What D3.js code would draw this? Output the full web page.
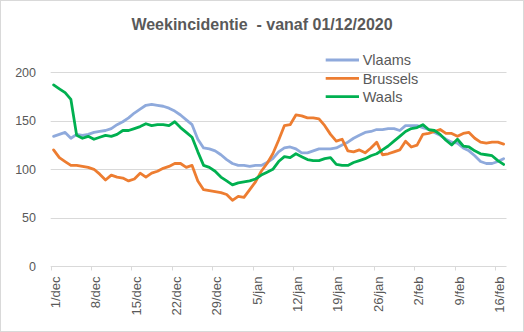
<!DOCTYPE html>
<html><head><meta charset="utf-8">
<script src="https://cdn.jsdelivr.net/npm/d3@7"></script>
<style>body{margin:0;background:#fff}svg{display:block}text{font-family:"Liberation Sans",Arial,sans-serif}</style>
</head><body><div id="c"></div>
<script>
// Days 1 Dec 2020 .. 17 Feb 2021
const startDate = new Date(2020, 11, 1);
const nDays = 79;
const dates = d3.range(nDays).map(i => d3.timeDay.offset(startDate, i));
const monthNames = ["jan","feb","mrt","apr","mei","jun","jul","aug","sep","okt","nov","dec"];
const tickDays = d3.range(0, nDays, 7);
const yTicks = [0, 50, 100, 150, 200];
const seriesNames = ["Vlaams", "Brussels", "Waals"];
const seriesColors = ["#8faadc", "#ed7d31", "#00b050"];

const vlaams = [134,136,138,132,136,135,136,138,139,140,142,146,149,153,158,162,166,167,166,165,163,160,156,151,146,131,122,121,119,115,110,106,104,104,103,104,104,107,111,118,122,123,121,117,117,119,121,121,121,122,125,128,132,135,138,139,141,141,142,142,140,145,145,145,143,141,138,135,131,128,127,122,119,114,108,106,106,108,111];
const brussels = [120,112,108,104,104,103,102,100,95,89,94,92,91,88,90,96,92,96,98,101,103,106,106,102,104,88,79,78,77,76,74,68,72,71,79,87,98,106,116,130,145,146,156,155,153,153,152,145,136,129,131,119,118,120,117,122,128,115,116,118,120,129,123,125,136,137,139,141,137,137,134,137,138,132,128,127,128,128,126];
const waals = [187,183,179,172,135,132,134,131,133,135,134,136,140,140,142,144,147,145,146,146,145,149,143,138,133,118,104,102,98,92,88,84,86,87,88,90,94,97,100,108,113,112,116,113,110,109,109,111,112,105,104,104,107,109,111,114,116,120,124,129,134,139,142,143,146,141,140,136,130,125,131,124,123,119,116,115,114,109,105];
const allSeries = [vlaams, brussels, waals];

const W = 524, H = 332;
const svg = d3.select("#c").append("svg").attr("width", W).attr("height", H);
svg.append("rect").attr("x",0.5).attr("y",0.5).attr("width",W-1).attr("height",H-1)
  .attr("fill","#fff").attr("stroke","#d9d9d9");

const x = d3.scaleBand().domain(d3.range(nDays)).range([50.7, 506.5]);
const y = d3.scaleLinear().domain([0, 200]).range([266.3, 72.3]);
const textCol = "#595959";

// gridlines
svg.append("g").selectAll("line").data(yTicks.filter(t => t > 0)).join("line")
  .attr("x1", 50.7).attr("x2", 506.5)
  .attr("y1", d => Math.round(y(d)) + 0.5).attr("y2", d => Math.round(y(d)) + 0.5)
  .attr("stroke", "#d9d9d9").attr("stroke-width", 1);

// y axis labels
const yAxis = d3.axisLeft(y).tickValues(yTicks).tickSize(0).tickPadding(0);
const gy = svg.append("g").attr("transform", "translate(36,0)").call(yAxis);
gy.select(".domain").remove();
gy.selectAll("text").attr("fill", textCol).style("font-size", "12.5px")
  .style("font-family", '"Liberation Sans",Arial,sans-serif');

// x axis
const xAxisY = Math.round(y(0)) + 0.5;
svg.append("line").attr("x1", 50.7).attr("x2", 506.5).attr("y1", xAxisY).attr("y2", xAxisY)
  .attr("stroke", "#d9d9d9");
const gx = svg.append("g");
gx.selectAll("line").data(tickDays).join("line")
  .attr("x1", d => Math.round(x(d)) + 0.5).attr("x2", d => Math.round(x(d)) + 0.5)
  .attr("y1", xAxisY).attr("y2", xAxisY + 4).attr("stroke", "#d9d9d9");
gx.selectAll("text").data(tickDays).join("text")
  .attr("transform", d => `translate(${x(d) + 4.5},${xAxisY + 10}) rotate(-90)`)
  .attr("text-anchor", "end").attr("dy", "0.35em")
  .attr("fill", textCol).style("font-size", "13px")
  .text(d => `${dates[d].getDate()}/${monthNames[dates[d].getMonth()]}`);

// lines
const line = d3.line().x((d, i) => x(i) + x.bandwidth() / 2).y(d => y(d));
svg.append("g").selectAll("path").data(allSeries).join("path")
  .attr("d", d => line(d)).attr("fill", "none")
  .attr("stroke", (d, i) => seriesColors[i]).attr("stroke-width", 2.8)
  .attr("stroke-linejoin", "round").attr("stroke-linecap", "round");

// title
svg.append("text").attr("x", 262).attr("y", 29.5).attr("text-anchor", "middle")
  .attr("fill", textCol).style("font-size", "16px").style("font-weight", "bold")
  .style("white-space", "pre")
  .text("Weekincidentie  - vanaf 01/12/2020");

// legend
const lg = svg.append("g");
seriesNames.forEach((n, i) => {
  const ly = 60 + i * 18.3;
  lg.append("line").attr("x1", 325.7).attr("x2", 359).attr("y1", ly).attr("y2", ly)
    .attr("stroke", seriesColors[i]).attr("stroke-width", 2.8);
  lg.append("text").attr("x", 362.7).attr("y", ly).attr("dy", "0.36em")
    .attr("fill", textCol).style("font-size", "14.5px").text(n);
});
</script></body></html>
